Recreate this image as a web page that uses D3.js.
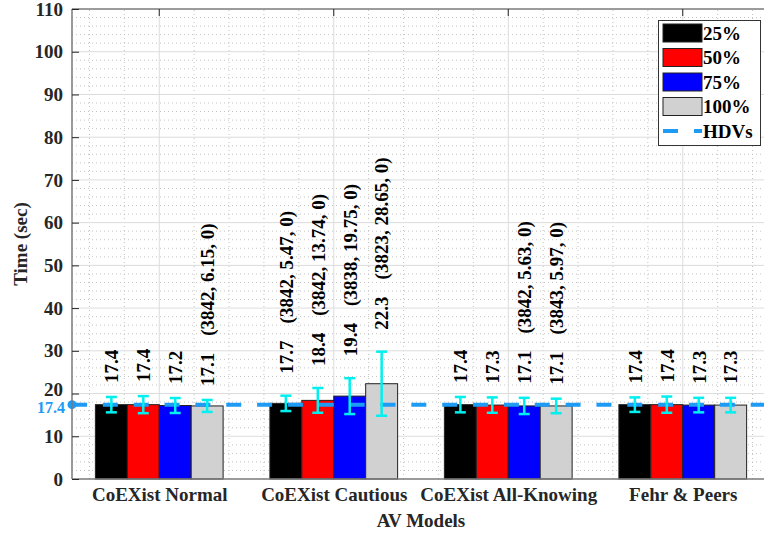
<!DOCTYPE html>
<html><head><meta charset="utf-8">
<script src="https://cdn.jsdelivr.net/npm/d3@7"></script>
<style>
html,body{margin:0;padding:0;background:#fff;}
svg{display:block;}
text{font-family:"Liberation Serif","Times New Roman",serif;}
</style></head>
<body>
<div id="chart"></div>
<script>
// ---- data ----
const categories = ["CoEXist Normal", "CoEXist Cautious", "CoEXist All-Knowing", "Fehr & Peers"];
const seriesNames = ["25%", "50%", "75%", "100%"];
const seriesColors = ["#000000", "#ff0000", "#0000ff", "#d1d1d1"];
const values = [
  [17.4, 17.4, 17.2, 17.1],
  [17.7, 18.4, 19.4, 22.3],
  [17.4, 17.3, 17.1, 17.1],
  [17.4, 17.4, 17.3, 17.3]
];
const errors = [
  [1.8, 2.0, 1.75, 1.4],
  [1.8, 2.9, 4.2, 7.5],
  [1.8, 1.8, 1.9, 1.7],
  [1.7, 1.9, 1.7, 1.7]
];
const tuples = [
  ["", "", "", "(3842, 6.15, 0)"],
  ["(3842, 5.47, 0)", "(3842, 13.74, 0)", "(3838, 19.75, 0)", "(3823, 28.65, 0)"],
  ["", "", "(3842, 5.63, 0)", "(3843, 5.97, 0)"],
  ["", "", "", ""]
];
const hdvValue = 17.4;
const hdvName = "HDVs";
const yTicks = [0, 10, 20, 30, 40, 50, 60, 70, 80, 90, 100, 110];
const yLabel = "Time (sec)";
const xLabel = "AV Models";

// ---- layout ----
const W = 764, H = 537;
const svg = d3.select("#chart").append("svg").attr("width", W).attr("height", H);
const x = d3.scaleLinear().domain([0.5, 4.5]).range([72, 770]);
const y = d3.scaleLinear().domain([0, 110]).range([479, 9]);
const barW = 0.183;
const hdvColor = "#1e9bf5";
const errColor = "#00f0f0";
const txtColor = "#262626";
const FF = "Liberation Serif, Times New Roman, serif";

// grid: minor
const g = svg.append("g");
const minorY = d3.range(0, 110.001, 2).filter(v => v % 10 !== 0);
g.selectAll(".mgy").data(minorY).enter().append("line")
  .attr("x1", x(0.5)).attr("x2", x(4.5)).attr("y1", d => y(d)).attr("y2", d => y(d))
  .attr("stroke", "#c4c4c4").attr("stroke-width", 1).attr("stroke-dasharray", "1,3");
const minorX = d3.range(0.6, 4.5, 0.2).filter(v => Math.abs(v - Math.round(v)) > 0.01);
g.selectAll(".mgx").data(minorX).enter().append("line")
  .attr("y1", y(0)).attr("y2", y(110)).attr("x1", d => x(d)).attr("x2", d => x(d))
  .attr("stroke", "#c4c4c4").attr("stroke-width", 1).attr("stroke-dasharray", "1,3");
// grid: major
g.selectAll(".gy").data(yTicks.slice(1, -1)).enter().append("line")
  .attr("x1", x(0.5)).attr("x2", x(4.5)).attr("y1", d => y(d)).attr("y2", d => y(d))
  .attr("stroke", "#dcdcdc").attr("stroke-width", 1);
g.selectAll(".gx").data([1, 2, 3, 4]).enter().append("line")
  .attr("y1", y(0)).attr("y2", y(110)).attr("x1", d => x(d)).attr("x2", d => x(d))
  .attr("stroke", "#dcdcdc").attr("stroke-width", 1);

// bars
const bars = [];
values.forEach((row, gi) => row.forEach((v, si) => {
  bars.push({gi, si, v, e: errors[gi][si], t: tuples[gi][si], cx: gi + 1 + (si - 1.5) * barW});
}));
svg.append("g").selectAll("rect").data(bars).enter().append("rect")
  .attr("x", d => x(d.cx - barW / 2)).attr("width", d => x(d.cx + barW / 2) - x(d.cx - barW / 2))
  .attr("y", d => y(d.v)).attr("height", d => y(0) - y(d.v))
  .attr("fill", d => seriesColors[d.si]).attr("stroke", "#222").attr("stroke-width", 1);

// HDV line
svg.append("line").attr("x1", x(0.5)).attr("x2", x(4.5)).attr("y1", y(hdvValue)).attr("y2", y(hdvValue))
  .attr("stroke", hdvColor).attr("stroke-width", 4).attr("stroke-dasharray", "15,15.85");
svg.append("circle").attr("cx", x(0.5)).attr("cy", y(hdvValue)).attr("r", 4.5).attr("fill", hdvColor);
svg.append("text").attr("x", 65).attr("y", y(hdvValue) + 3).attr("dy", "0.35em").attr("text-anchor", "end")
  .attr("font-size", 16).attr("font-weight", "bold").attr("fill", hdvColor).text(hdvValue.toFixed(1));

// error bars
const eg = svg.append("g").attr("stroke", errColor).attr("stroke-width", 2.5);
bars.forEach(d => {
  const cx = x(d.cx);
  eg.append("line").attr("x1", cx).attr("x2", cx).attr("y1", y(d.v - d.e)).attr("y2", y(d.v + d.e));
  eg.append("line").attr("x1", cx - 5.5).attr("x2", cx + 5.5).attr("y1", y(d.v - d.e)).attr("y2", y(d.v - d.e));
  eg.append("line").attr("x1", cx - 5.5).attr("x2", cx + 5.5).attr("y1", y(d.v + d.e)).attr("y2", y(d.v + d.e));
});

// value labels (rotated)
const lg = svg.append("g");
bars.forEach(d => {
  const off = d.gi === 1 ? 22 : 14;
  const t = lg.append("text")
    .attr("transform", `translate(${x(d.cx)},${y(d.v + d.e) - off}) rotate(-90)`)
    .attr("dy", "0.36em").attr("text-anchor", "start")
    .attr("font-size", 19).attr("font-weight", "bold").attr("fill", "#000");
  t.append("tspan").text(d.v.toFixed(1));
  if (d.t) t.append("tspan").attr("dx", 17).text(d.t);
});

// axes box
const axCol = "#7a7a7a";
svg.append("line").attr("x1", x(0.5)).attr("x2", x(0.5)).attr("y1", y(0)).attr("y2", y(110)).attr("stroke", axCol).attr("stroke-width", 1.5);
svg.append("line").attr("x1", x(0.5)).attr("x2", x(4.5)).attr("y1", y(110)).attr("y2", y(110)).attr("stroke", axCol).attr("stroke-width", 1.5);
svg.append("line").attr("x1", x(0.5)).attr("x2", x(4.5)).attr("y1", y(0)).attr("y2", y(0)).attr("stroke", axCol).attr("stroke-width", 1.5);

// y ticks
const yAxis = d3.axisLeft(y).tickValues(yTicks).tickSize(-7).tickPadding(9).tickFormat(d3.format("d"));
const ya = svg.append("g").attr("transform", `translate(${x(0.5)},0)`).call(yAxis);
ya.select(".domain").remove();
ya.selectAll(".tick line").attr("stroke", txtColor).attr("stroke-width", 1);
ya.selectAll(".tick text").attr("font-size", 19).attr("font-weight", "bold").attr("fill", txtColor)
  .attr("font-family", FF);
ya.selectAll(".tick").filter(d => d === 20).select("text").attr("dy", "0.1em");
// top ticks
svg.append("g").selectAll("line").data([1, 2, 3, 4]).enter().append("line")
  .attr("x1", d => x(d)).attr("x2", d => x(d)).attr("y1", y(110)).attr("y2", y(110) + 7)
  .attr("stroke", txtColor).attr("stroke-width", 1);

// x category labels
const xAxis = d3.axisBottom(x).tickValues([1, 2, 3, 4]).tickSize(0).tickPadding(9).tickFormat(d => categories[d - 1]);
const xa = svg.append("g").attr("transform", `translate(0,${y(0)})`).call(xAxis);
xa.select(".domain").remove();
xa.selectAll(".tick text").attr("font-size", 19).attr("font-weight", "bold").attr("fill", txtColor)
  .attr("font-family", FF);

// axis titles
svg.append("text").attr("x", (x(0.5) + x(4.5)) / 2).attr("y", 527).attr("text-anchor", "middle")
  .attr("font-size", 19).attr("font-weight", "bold").attr("fill", txtColor).text(xLabel);
svg.append("text").attr("transform", `translate(27,${(y(0) + y(110)) / 2}) rotate(-90)`).attr("text-anchor", "middle")
  .attr("font-size", 19).attr("font-weight", "bold").attr("fill", txtColor).text(yLabel);

// legend
const leg = svg.append("g").attr("transform", "translate(658,20)");
leg.append("rect").attr("x", 0.5).attr("y", 0.5).attr("width", 102).attr("height", 125)
  .attr("fill", "#fff").attr("stroke", "#333").attr("stroke-width", 1);
seriesNames.forEach((n, i) => {
  const cy = 13 + i * 24.5;
  leg.append("rect").attr("x", 5).attr("y", cy - 9).attr("width", 39).attr("height", 18)
    .attr("fill", seriesColors[i]).attr("stroke", "#222").attr("stroke-width", 1);
  leg.append("text").attr("x", 45).attr("y", cy).attr("dy", "0.35em").attr("font-size", 19)
    .attr("font-weight", "bold").attr("fill", "#000").text(n);
});
const hy = 13 + 4 * 24.5;
leg.append("line").attr("x1", 5).attr("x2", 44).attr("y1", hy).attr("y2", hy)
  .attr("stroke", hdvColor).attr("stroke-width", 4).attr("stroke-dasharray", "15,16");
leg.append("text").attr("x", 45).attr("y", hy).attr("dy", "0.35em").attr("font-size", 19)
  .attr("font-weight", "bold").attr("fill", "#000").text(hdvName);
</script>
</body></html>
